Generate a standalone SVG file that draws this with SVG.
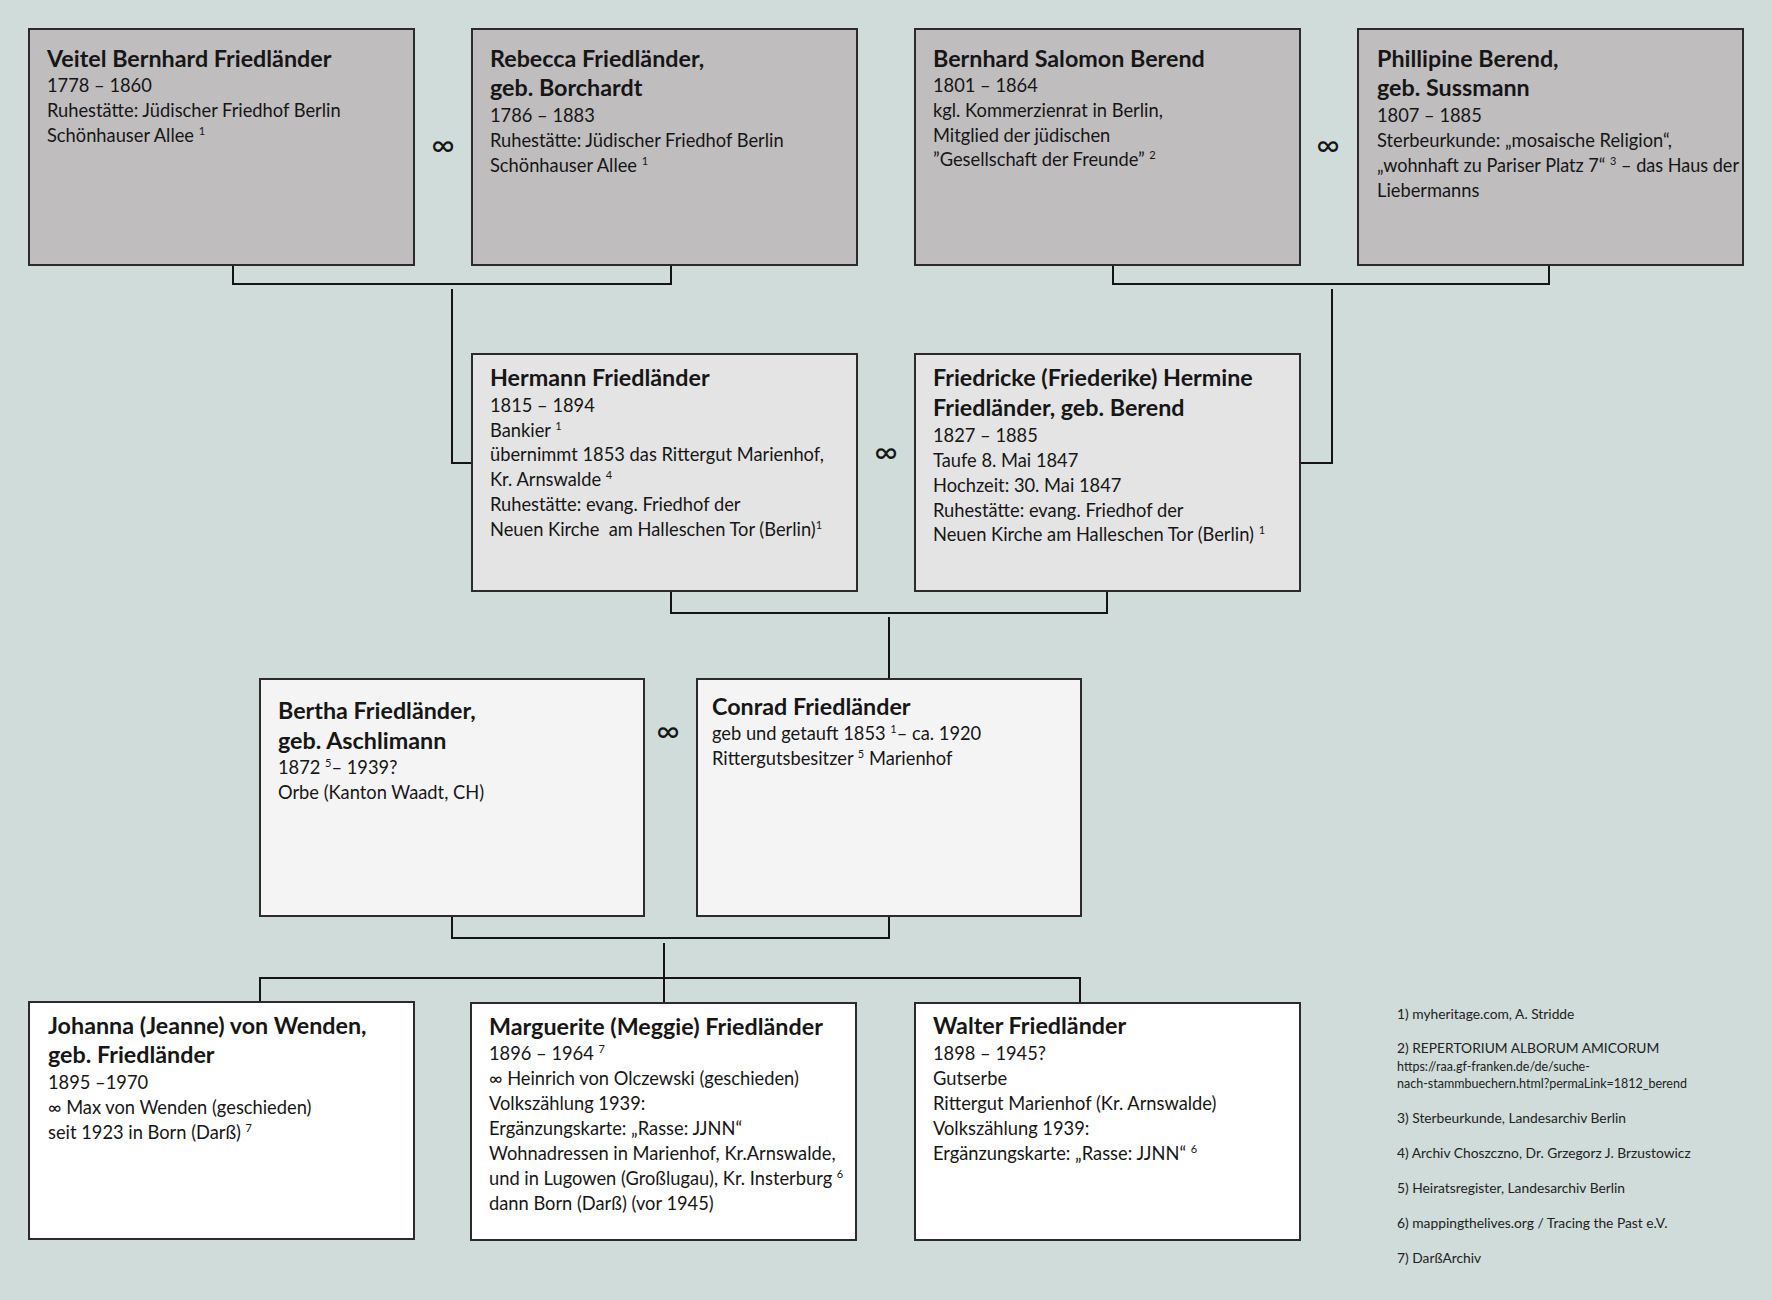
<svg xmlns="http://www.w3.org/2000/svg" width="1772" height="1300" viewBox="0 0 1772 1300">
<style>
text{font-family:Lato,"Open Sans","Liberation Sans",sans-serif;fill:#161616}
.t{font-size:23.3px;font-weight:bold}
.b{font-size:18.3px}
.s{font-size:11px}
.inf{font-size:32px;text-anchor:middle}
.fn{font-size:13.8px;fill:#222}
.fu{font-size:12.5px;fill:#222}
.box{stroke:#2b2b2b;stroke-width:2}
.g1{fill:#bfbdbe}.g2{fill:#e4e4e4}.g3{fill:#f4f4f4}.g4{fill:#ffffff}
#connectors path{fill:none;stroke:#141414;stroke-width:2}
</style>
<rect width="1772" height="1300" fill="#cfdcd9"/>
<g id="connectors">
<path d="M233,265V284H671V265"/>
<path d="M452,289V463H473"/>
<path d="M1113,265V284H1549V265"/>
<path d="M1332,289V463H1300"/>
<path d="M671,591V613H1107V591"/>
<path d="M889,617V679"/>
<path d="M452,916V938H889V916"/>
<path d="M664,943V1003"/>
<path d="M260,1003V978H1080V1003"/>
</g>
<g id="n1"><rect class="box g1" x="29" y="29" width="385" height="236"/>
<text class="t" x="47" y="67">Veitel Bernhard Friedländer</text>
<text class="b" x="47" y="91.5">1778 – 1860</text>
<text class="b" x="47" y="116.5">Ruhestätte: Jüdischer Friedhof Berlin</text>
<text class="b" x="47" y="141.5">Schönhauser Allee <tspan class="s" dy="-7">1</tspan></text></g>
<g id="n2"><rect class="box g1" x="472" y="29" width="385" height="236"/>
<text class="t" x="490" y="67">Rebecca Friedländer,</text>
<text class="t" x="490" y="96">geb. Borchardt</text>
<text class="b" x="490" y="122">1786 – 1883</text>
<text class="b" x="490" y="146.5">Ruhestätte: Jüdischer Friedhof Berlin</text>
<text class="b" x="490" y="171.5">Schönhauser Allee <tspan class="s" dy="-7">1</tspan></text></g>
<g id="n3"><rect class="box g1" x="915" y="29" width="385" height="236"/>
<text class="t" x="933" y="67">Bernhard Salomon Berend</text>
<text class="b" x="933" y="91.5">1801 – 1864</text>
<text class="b" x="933" y="116.5">kgl. Kommerzienrat in Berlin,</text>
<text class="b" x="933" y="141.5">Mitglied der jüdischen</text>
<text class="b" x="933" y="166">”Gesellschaft der Freunde” <tspan class="s" dy="-7">2</tspan></text></g>
<g id="n4"><rect class="box g1" x="1358" y="29" width="385" height="236"/>
<text class="t" x="1377" y="67">Phillipine Berend,</text>
<text class="t" x="1377" y="96">geb. Sussmann</text>
<text class="b" x="1377" y="122">1807 – 1885</text>
<text class="b" x="1377" y="146.7">Sterbeurkunde: „mosaische Religion“,</text>
<text class="b" x="1377" y="171.5" textLength="362" lengthAdjust="spacingAndGlyphs">„wohnhaft zu Pariser Platz 7“ <tspan class="s" dy="-7">3</tspan><tspan dy="7"> – das Haus der</tspan></text>
<text class="b" x="1377" y="196.5">Liebermanns</text></g>
<g id="n5"><rect class="box g2" x="472" y="354" width="385" height="237"/>
<text class="t" x="490" y="386">Hermann Friedländer</text>
<text class="b" x="490" y="412">1815 – 1894</text>
<text class="b" x="490" y="436.7">Bankier <tspan class="s" dy="-7">1</tspan></text>
<text class="b" x="490" y="461.4">übernimmt 1853 das Rittergut Marienhof,</text>
<text class="b" x="490" y="486.1">Kr. Arnswalde <tspan class="s" dy="-7">4</tspan></text>
<text class="b" x="490" y="510.8">Ruhestätte: evang. Friedhof der</text>
<text class="b" x="490" y="535.5">Neuen Kirche&#160; am Halleschen Tor (Berlin)<tspan class="s" dy="-7">1</tspan></text></g>
<g id="n6"><rect class="box g2" x="915" y="354" width="385" height="237"/>
<text class="t" x="933" y="386">Friedricke (Friederike) Hermine</text>
<text class="t" x="933" y="415.5">Friedländer, geb. Berend</text>
<text class="b" x="933" y="441.5">1827 – 1885</text>
<text class="b" x="933" y="466.5">Taufe 8. Mai 1847</text>
<text class="b" x="933" y="491.5">Hochzeit: 30. Mai 1847</text>
<text class="b" x="933" y="516.5">Ruhestätte: evang. Friedhof der</text>
<text class="b" x="933" y="541">Neuen Kirche am Halleschen Tor (Berlin) <tspan class="s" dy="-7">1</tspan></text></g>
<g id="n7"><rect class="box g3" x="260" y="679" width="384" height="237"/>
<text class="t" x="278" y="718.5">Bertha Friedländer,</text>
<text class="t" x="278" y="749">geb. Aschlimann</text>
<text class="b" x="278" y="774">1872 <tspan class="s" dy="-7">5</tspan><tspan dy="7">– 1939?</tspan></text>
<text class="b" x="278" y="798.5">Orbe (Kanton Waadt, CH)</text></g>
<g id="n8"><rect class="box g3" x="697" y="679" width="384" height="237"/>
<text class="t" x="712" y="715">Conrad Friedländer</text>
<text class="b" x="712" y="740">geb und getauft 1853 <tspan class="s" dy="-7">1</tspan><tspan dy="7">– ca. 1920</tspan></text>
<text class="b" x="712" y="765">Rittergutsbesitzer <tspan class="s" dy="-7">5</tspan><tspan dy="7"> Marienhof</tspan></text></g>
<g id="n9"><rect class="box g4" x="29" y="1002" width="385" height="237"/>
<text class="t" x="48" y="1033.5">Johanna (Jeanne) von Wenden,</text>
<text class="t" x="48" y="1063">geb. Friedländer</text>
<text class="b" x="48" y="1089">1895 –1970</text>
<text class="b" x="48" y="1114">∞ Max von Wenden (geschieden)</text>
<text class="b" x="48" y="1139">seit 1923 in Born (Darß) <tspan class="s" dy="-7">7</tspan></text></g>
<g id="n10"><rect class="box g4" x="471" y="1003" width="385" height="237"/>
<text class="t" x="489" y="1034.5">Marguerite (Meggie) Friedländer</text>
<text class="b" x="489" y="1060">1896 – 1964 <tspan class="s" dy="-7">7</tspan></text>
<text class="b" x="489" y="1085">∞ Heinrich von Olczewski (geschieden)</text>
<text class="b" x="489" y="1110">Volkszählung 1939:</text>
<text class="b" x="489" y="1135">Ergänzungskarte: „Rasse: JJNN“</text>
<text class="b" x="489" y="1160">Wohnadressen in Marienhof, Kr.Arnswalde,</text>
<text class="b" x="489" y="1184.5">und in Lugowen (Großlugau), Kr. Insterburg <tspan class="s" dy="-7">6</tspan></text>
<text class="b" x="489" y="1210">dann Born (Darß) (vor 1945)</text></g>
<g id="n11"><rect class="box g4" x="915" y="1003" width="385" height="237"/>
<text class="t" x="933" y="1033.5">Walter Friedländer</text>
<text class="b" x="933" y="1060">1898 – 1945?</text>
<text class="b" x="933" y="1085">Gutserbe</text>
<text class="b" x="933" y="1110">Rittergut Marienhof (Kr. Arnswalde)</text>
<text class="b" x="933" y="1135">Volkszählung 1939:</text>
<text class="b" x="933" y="1160">Ergänzungskarte: „Rasse: JJNN“ <tspan class="s" dy="-7">6</tspan></text></g>
<g id="marriages">
<text class="inf" x="443" y="156">∞</text>
<text class="inf" x="1328" y="156">∞</text>
<text class="inf" x="886" y="463">∞</text>
<text class="inf" x="668" y="742">∞</text>
</g>
<g id="footnotes">
<text class="fn" x="1397" y="1019">1) myheritage.com, A. Stridde</text>
<text class="fn" x="1397" y="1053">2) REPERTORIUM ALBORUM AMICORUM</text>
<text class="fu" x="1397" y="1071">https://raa.gf-franken.de/de/suche-</text>
<text class="fu" x="1397" y="1088">nach-stammbuechern.html?permaLink=1812_berend</text>
<text class="fn" x="1397" y="1123">3) Sterbeurkunde, Landesarchiv Berlin</text>
<text class="fn" x="1397" y="1158">4) Archiv Choszczno, Dr. Grzegorz J. Brzustowicz</text>
<text class="fn" x="1397" y="1193">5) Heiratsregister, Landesarchiv Berlin</text>
<text class="fn" x="1397" y="1228">6) mappingthelives.org / Tracing the Past e.V.</text>
<text class="fn" x="1397" y="1263">7) DarßArchiv</text>
</g>
</svg>
